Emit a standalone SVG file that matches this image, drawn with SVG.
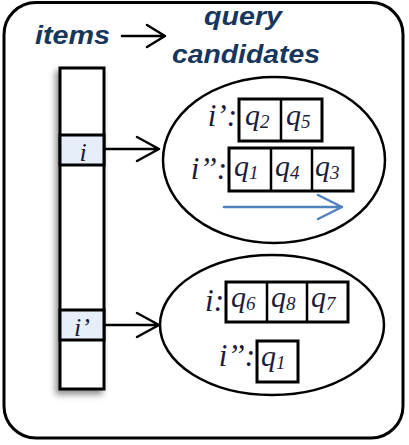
<svg xmlns="http://www.w3.org/2000/svg" width="409" height="445" viewBox="0 0 409 445">
<defs>
<style>
.frame{fill:#fff;stroke:#000;stroke-width:3}
.col{fill:#fff;stroke:#000;stroke-width:3}
.hl{fill:#e6eef9;stroke:#000;stroke-width:3}
.ell{fill:#fff;stroke:#000;stroke-width:2.5}
.box{fill:#fff;stroke:#000;stroke-width:3}
.div{stroke:#000;stroke-width:2.5}
.title{font-family:"Liberation Sans",Arial,sans-serif;font-weight:bold;font-style:italic;font-size:26px;fill:#17365d}
.lab{font-family:"Liberation Serif","Times New Roman",serif;font-style:italic;font-size:31px;fill:#1c1c3a}
.q{font-family:"Liberation Serif","Times New Roman",serif;font-style:italic;font-size:30px;fill:#1c1c3a}
.sub{font-size:19px}
.conn{fill:none;stroke:#000;stroke-width:2.5;stroke-linecap:round;stroke-linejoin:round}
.blue{fill:none;stroke:#4f81bd;stroke-width:2.5;stroke-linecap:round;stroke-linejoin:round}
</style>
<filter id="sh" x="-50%" y="-10%" width="200%" height="130%">
<feDropShadow dx="-3" dy="4" stdDeviation="3" flood-color="#000" flood-opacity="0.45"/>
</filter>
</defs>
<rect class="frame" x="4" y="2.5" width="399" height="435.5" rx="32" ry="32"/>
<g id="title">
<text class="title" x="35" y="44" textLength="75" lengthAdjust="spacingAndGlyphs">items</text>
<text class="title" x="204" y="25" textLength="78" lengthAdjust="spacingAndGlyphs">query</text>
<text class="title" x="172" y="63" textLength="148" lengthAdjust="spacingAndGlyphs">candidates</text>
</g>
<g id="column">
<rect class="col" x="60" y="68" width="44" height="321" filter="url(#sh)"/>
<rect class="hl" x="60" y="135" width="44" height="30"/>
<rect class="hl" x="60" y="310" width="44" height="30"/>
<text class="lab" x="83" y="161" text-anchor="middle" style="font-size:26px">i</text>
<text class="lab" x="82" y="336" text-anchor="middle" style="font-size:26px">i’</text>
</g>
<g id="group1">
<ellipse class="ell" cx="274" cy="160" rx="111" ry="83"/>
<text class="lab" x="237" y="126" text-anchor="end">i’:</text>
<rect class="box" x="239" y="99" width="83" height="42"/>
<line class="div" x1="281" y1="99" x2="281" y2="141"/>
<text class="q" x="245" y="125">q<tspan class="sub" dy="3">2</tspan></text>
<text class="q" x="286" y="125">q<tspan class="sub" dy="3">5</tspan></text>
<text class="lab" x="227" y="179" text-anchor="end">i’’:</text>
<rect class="box" x="229" y="148" width="124" height="43"/>
<line class="div" x1="271" y1="148" x2="271" y2="191"/>
<line class="div" x1="312" y1="148" x2="312" y2="191"/>
<text class="q" x="234" y="176">q<tspan class="sub" dy="3">1</tspan></text>
<text class="q" x="275" y="176">q<tspan class="sub" dy="3">4</tspan></text>
<text class="q" x="315" y="176">q<tspan class="sub" dy="3">3</tspan></text>
</g>
<g id="group2">
<ellipse class="ell" cx="272" cy="325" rx="112" ry="70"/>
<text class="lab" x="224" y="311" text-anchor="end">i:</text>
<rect class="box" x="226" y="282" width="122" height="40"/>
<line class="div" x1="267" y1="282" x2="267" y2="322"/>
<line class="div" x1="307" y1="282" x2="307" y2="322"/>
<text class="q" x="231" y="307">q<tspan class="sub" dy="3">6</tspan></text>
<text class="q" x="271" y="307">q<tspan class="sub" dy="3">8</tspan></text>
<text class="q" x="311" y="307">q<tspan class="sub" dy="3">7</tspan></text>
<text class="lab" x="255" y="366" text-anchor="end">i’’:</text>
<rect class="box" x="257" y="341" width="41" height="41"/>
<text class="q" x="261" y="366">q<tspan class="sub" dy="3">1</tspan></text>
</g>
<g id="connectors">
<path class="conn" d="M122 36 H165 M147 25 L165 36 L147 47"/>
<path class="conn" d="M104 149 H159 M137 137 L159 149 L137 161"/>
<path class="conn" d="M104 325 H159 M137 313 L159 325 L137 337"/>
<path class="blue" d="M224 207 H342 M318 195 L342 207 L318 219"/>
</g>
</svg>
